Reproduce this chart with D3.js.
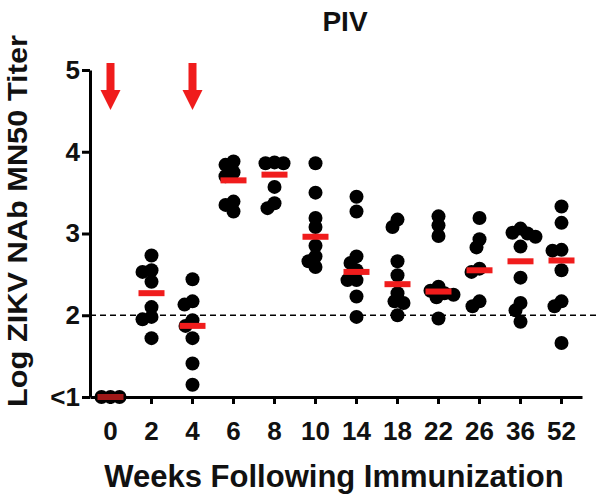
<!DOCTYPE html>
<html lang="en">
	<head>
		<meta charset="utf-8">
		<title>PIV</title>
		<script type="text/javascript" src="https://cdn.jsdelivr.net/npm/d3@7"></script>
		<style type="text/css">
			body { margin: 0; background: #fff; }
			text { font-family: "Liberation Sans", Arial, sans-serif; font-weight: bold; }
		</style>
	</head>
	<body>
	<script>

		var w = 600;
		var h = 499;

		// weeks on the x axis
		var weeks = ["0", "2", "4", "6", "8", "10", "14", "18", "22", "26", "36", "52"];

		// log titers, one list per week
		var wk0  = [1, 1, 1];
		var wk2  = [2.73, 2.55, 2.53, 2.41, 2.10, 1.98, 1.95, 1.72];
		var wk4  = [2.44, 2.17, 2.13, 1.94, 1.87, 1.72, 1.41, 1.15];
		var wk6  = [3.88, 3.84, 3.75, 3.70, 3.39, 3.35, 3.27];
		var wk8  = [3.87, 3.86, 3.86, 3.57, 3.37, 3.31];
		var wk10 = [3.86, 3.50, 3.19, 3.08, 2.85, 2.72, 2.66, 2.59];
		var wk14 = [3.45, 3.27, 2.72, 2.64, 2.55, 2.43, 2.43, 2.23, 1.98];
		var wk18 = [3.17, 3.08, 2.66, 2.49, 2.27, 2.17, 2.15, 2.00];
		var wk22 = [3.21, 3.10, 2.97, 2.35, 2.30, 2.27, 2.25, 2.22, 1.96];
		var wk26 = [3.19, 2.93, 2.83, 2.57, 2.53, 2.17, 2.11];
		var wk36 = [3.06, 3.01, 3.00, 2.96, 2.84, 2.46, 2.15, 2.06, 1.92];
		var wk52 = [3.33, 3.13, 2.80, 2.79, 2.55, 2.17, 2.11, 1.66];
		var titers = [wk0, wk2, wk4, wk6, wk8, wk10, wk14, wk18, wk22, wk26, wk36, wk52];

		// group means (red bars)
		var means = [1.00, 2.27, 1.87, 3.65, 3.72, 2.96, 2.53, 2.38, 2.29, 2.55, 2.66, 2.67];

		// immunization weeks (red arrows)
		var arrowWeeks = ["0", "4"];

		var yTicks = [1, 2, 3, 4, 5];
		var yTickLabels = ["<1", "2", "3", "4", "5"];
		var cutoff = 2;

		var svg = d3.select("body").append("svg")
			.attr("width", w).attr("height", h);

		var x = d3.scaleBand().domain(weeks).range([90, 582]);
		var y = d3.scaleLinear().domain([1, 5]).range([397, 70]);

		// axes
		var yAxis = svg.append("g")
			.attr("transform", "translate(90,0)")
			.call(d3.axisLeft(y).tickValues(yTicks)
				.tickFormat(function(d, i){ return yTickLabels[i]; })
				.tickSize(8).tickSizeOuter(0).tickPadding(2));
		var xAxis = svg.append("g")
			.attr("transform", "translate(0,397)")
			.call(d3.axisBottom(x).tickSize(7).tickSizeOuter(0).tickPadding(18));

		[yAxis, xAxis].forEach(function(g){
			g.select(".domain").attr("stroke", "#000").attr("stroke-width", 3);
			g.selectAll(".tick line").attr("stroke", "#000").attr("stroke-width", 3);
			g.selectAll(".tick text").attr("fill", "#111").attr("font-size", "26px")
				.attr("font-family", "Liberation Sans, Arial, sans-serif").attr("font-weight", "bold");
		});

		// detection limit
		svg.append("line")
			.attr("x1", 90).attr("x2", w)
			.attr("y1", y(cutoff)).attr("y2", y(cutoff))
			.attr("stroke", "#000").attr("stroke-width", 1.5)
			.attr("stroke-dasharray", "6,4");

		// simple swarm so overlapping dots sit side by side
		var r = 7, minD = 8.5;
		function swarm(vals) {
			var placed = [];
			vals.forEach(function(v){
				var py = y(v);
				for (var k = 0; k < 200; k++) {
					var dx = (k % 2 === 0 ? 1 : -1) * Math.ceil(k / 2);
					var ok = placed.every(function(p){
						return (dx - p.dx) * (dx - p.dx) + (py - p.py) * (py - p.py) >= minD * minD;
					});
					if (ok) { placed.push({dx: dx, py: py}); break; }
				}
			});
			return placed;
		}

		var dots = [];
		titers.forEach(function(vals, i){
			swarm(vals).forEach(function(p){
				dots.push({cx: x(weeks[i]) + x.bandwidth() / 2 + p.dx, cy: p.py});
			});
		});

		svg.selectAll("circle.dot")
			.data(dots)
			.enter()
			.append("circle")
			.attr("class", "dot")
			.attr("cx", function(d){ return d.cx; })
			.attr("cy", function(d){ return d.cy; })
			.attr("r", r)
			.attr("fill", "#000");

		// mean bars
		svg.selectAll("rect.mean")
			.data(means)
			.enter()
			.append("rect")
			.attr("class", "mean")
			.attr("x", function(d, i){ return x(weeks[i]) + x.bandwidth() / 2 - 13; })
			.attr("y", function(d){ return y(d) - 3; })
			.attr("width", 26).attr("height", 6)
			.attr("fill", function(d, i){ return i === 0 ? "#a01818" : "#f01c1c"; });

		// arrows
		svg.selectAll("path.arrow")
			.data(arrowWeeks)
			.enter()
			.append("path")
			.attr("class", "arrow")
			.attr("d", function(d){
				var cx = x(d) + x.bandwidth() / 2, top = y(5) - 7;
				return "M" + (cx - 4) + "," + top + "L" + (cx + 4) + "," + top +
					"L" + (cx + 4) + "," + (top + 27) + "L" + (cx + 10) + "," + (top + 27) +
					"L" + cx + "," + (top + 47) + "L" + (cx - 10) + "," + (top + 27) +
					"L" + (cx - 4) + "," + (top + 27) + "Z";
			})
			.attr("fill", "#f01c1c");

		// titles
		svg.append("text")
			.attr("x", 345).attr("y", 31)
			.attr("text-anchor", "middle")
			.attr("font-size", "28px").attr("fill", "#111")
			.text("PIV");

		svg.append("text")
			.attr("x", 334).attr("y", 487)
			.attr("text-anchor", "middle")
			.attr("font-size", "31px").attr("fill", "#111")
			.text("Weeks Following Immunization");

		svg.append("text")
			.attr("transform", "translate(27,221) rotate(-90)")
			.attr("text-anchor", "middle")
			.attr("font-size", "27px").attr("fill", "#111")
			.attr("textLength", 372).attr("lengthAdjust", "spacingAndGlyphs")
			.text("Log ZIKV NAb MN50 Titer");

	</script>
	</body>
</html>
